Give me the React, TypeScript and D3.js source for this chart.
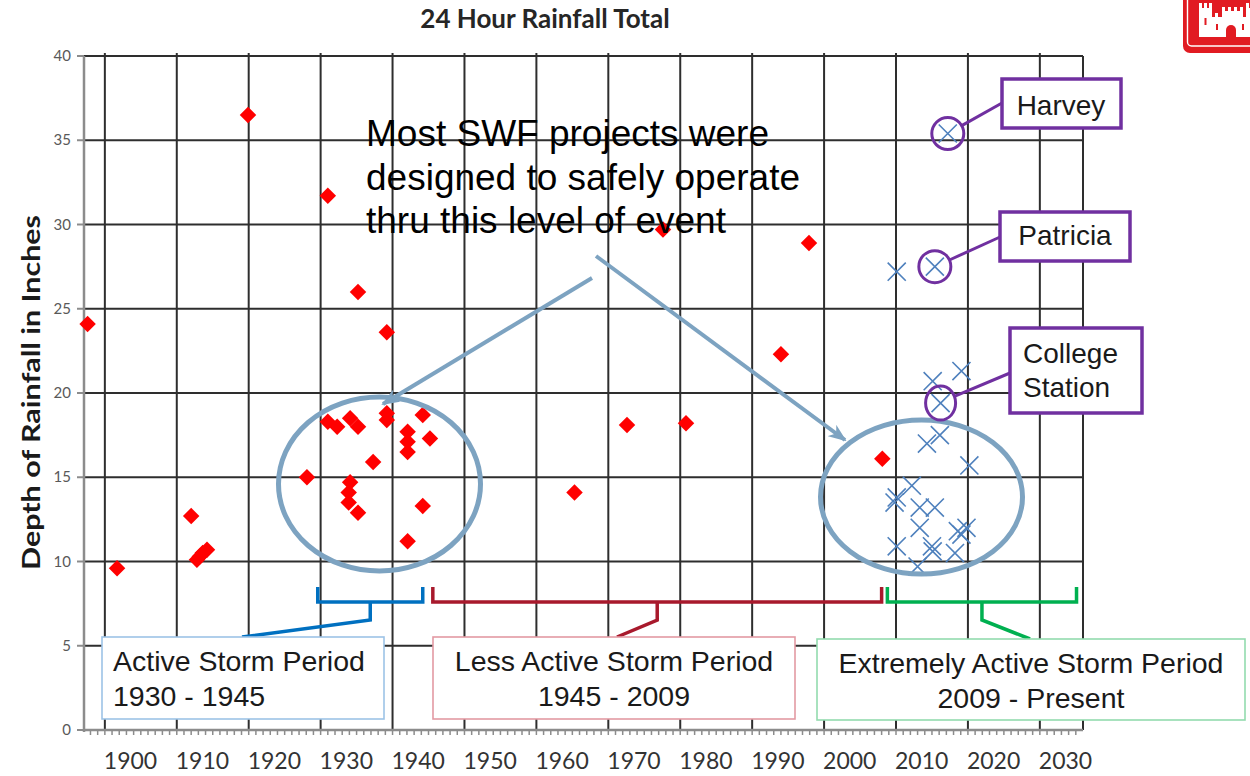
import React from "react";
import * as d3 from "d3";

// ---- data ----
const yearTicks = [1900, 1910, 1920, 1930, 1940, 1950, 1960, 1970, 1980, 1990, 2000, 2010, 2020, 2030];
const depthTicks = [0, 5, 10, 15, 20, 25, 30, 35, 40];

// Historic 24-hour rainfall events (red diamonds)
const historicYears = [
  1897.6, 1901.7, 1912.0, 1912.8, 1913.2, 1913.6, 1914.2, 1919.9, 1928.1, 1931.0,
  1931.0, 1932.3, 1934.1, 1935.2, 1935.2, 1934.1, 1933.9, 1933.9, 1935.2, 1937.3,
  1939.2, 1939.2, 1939.2, 1942.1, 1942.1, 1942.1, 1942.1, 1944.2, 1944.2, 1945.2,
  1965.3, 1972.6, 1977.6, 1980.8, 1994.0, 1997.9, 2008.1,
];
const historicDepths = [
  24.1, 9.6, 12.7, 10.1, 10.3, 10.5, 10.7, 36.5, 15.0, 31.7,
  18.3, 18.0, 18.5, 18.0, 26.0, 14.7, 14.1, 13.5, 12.9, 15.9,
  23.6, 18.8, 18.4, 17.7, 17.1, 16.5, 11.2, 18.7, 13.3, 17.3,
  14.1, 18.1, 29.7, 18.2, 22.3, 28.9, 16.1,
];

// Recent events (blue crosses)
const recentYears = [
  2017.2, 2015.4, 2010.1, 2015.1, 2019.1, 2016.2, 2016.1, 2014.3, 2020.2, 2012.2,
  2010.1, 2009.8, 2013.3, 2015.4, 2013.3, 2019.8, 2019.1, 2018.6, 2010.1, 2015.0,
  2015.1, 2018.2, 2013.0,
];
const recentDepths = [
  35.4, 27.5, 27.2, 20.7, 21.3, 19.4, 17.5, 17.0, 15.7, 14.5,
  13.8, 13.5, 13.2, 13.2, 12.0, 12.0, 11.6, 11.8, 10.9, 10.9,
  10.6, 10.5, 9.7,
];

// Named storms: index into the recent series
const stormNames = [["Harvey"], ["Patricia"], ["College", "Station"]];
const stormIndex = [0, 1, 5];

// Storm periods
const periodTitles = ["Active Storm Period", "Less Active Storm Period", "Extremely Active Storm Period"];
const periodRanges = ["1930 - 1945", "1945 - 2009", "2009 - Present"];
const periodStart = [1929.6, 1945.6, 2008.8];
const periodEnd = [1944.2, 2008.0, 2035.1];

// ---- layout ----
const W = 1250;
const H = 776;
const plot = { left: 84, right: 1083, top: 56, bottom: 730 };

const x = d3.scaleLinear().domain([1897.1, 2036]).range([plot.left, plot.right]);
const y = d3.scaleLinear().domain([0, 40]).range([plot.bottom, plot.top]);

const RED = "#FF0000";
const BLUE_X = "#4F81BD";
const PURPLE = "#7030A0";
const STEEL = "#7DA3C1";
const GRID = "#2E2E2E";
const AXIS = "#8C8C8C";
const CALIBRI = "Lato, 'Open Sans', sans-serif";
const ARIAL = "'Liberation Sans', Arial, sans-serif";

const diamond = d3.symbol(d3.symbolSquare, 136)() as string;
const cross = d3.symbol(d3.symbolX, 215)() as string;

const periodColors = ["#0070C0", "#A8192C", "#00B050"];
const periodBoxStroke = ["#9DC3E6", "#E39AA3", "#93DBAE"];
const periodBoxes = [
  { x: 102, y: 637, w: 282, h: 82, anchor: "start", tx: 113, lead: [242, 637] },
  { x: 433, y: 637, w: 362, h: 82, anchor: "middle", tx: 614, lead: [617, 637] },
  { x: 817, y: 639, w: 428, h: 81, anchor: "middle", tx: 1031, lead: [1030, 639] },
];
const bracket = { armTop: 587, bar: 602, stem: 620 };

const stormBoxes = [
  { x: 1002, y: 79, w: 119, h: 49, anchor: [1002, 103], tx: 1061, ty: [115] },
  { x: 1000, y: 212, w: 130, h: 49, anchor: [1000, 237], tx: 1065, ty: [245] },
  { x: 1010, y: 328, w: 132, h: 85, anchor: [1010, 373], tx: 1023, ty: [363, 397] },
];
const stormRings = [
  { rx: 16, ry: 16 },
  { rx: 16, ry: 16 },
  { rx: 15, ry: 17 },
];

const noteLines = ["Most SWF projects were", "designed to safely operate", "thru this level of event"];

function Logo() {
  const castle =
    "M1199,37 L1199,8 L1199,3 L1202,3 L1202,8 L1204,8 L1204,3 L1207,3 L1207,8 L1209,8 L1209,3 L1212,3 L1212,17 " +
    "L1215,17 L1215,13 L1218,13 L1218,17 L1222,17 L1222,7 L1225,7 L1225,11 L1228,11 L1228,7 L1231,7 L1231,11 " +
    "L1234,11 L1234,7 L1237,7 L1237,11 L1240,11 L1240,7 L1243,7 L1243,17 L1246,17 L1246,3 L1249,3 L1249,8 " +
    "L1252,8 L1252,37 Z";
  return (
    <g>
      <rect x={1183} y={-20} width={95} height={73} rx={7} fill="#E11B22" />
      <rect x={1187.5} y={-20} width={86} height={66} rx={4} fill="none" stroke="#FFFFFF" strokeWidth={1.4} />
      <path d={castle} fill="#FFFFFF" />
      <path d="M1226,37 L1226,30 A5,5 0 0 1 1236,30 L1236,37 Z" fill="#E11B22" />
      <rect x={1204.5} y={18} width={2} height={7} fill="#E11B22" />
      <rect x={1216} y={24} width={2} height={6} fill="#E11B22" />
      <rect x={1242} y={24} width={2} height={6} fill="#E11B22" />
    </g>
  );
}

export default function App() {
  const minorYears = d3.range(1898, 2036, 1);

  return (
    <svg
      width={W}
      height={H}
      viewBox={`0 0 ${W} ${H}`}
      style={{ position: "absolute", left: 0, top: 0, background: "#FFFFFF" }}
    >
      <defs>
        <marker
          id="arrowHead"
          viewBox="0 0 18 14"
          markerWidth={18}
          markerHeight={14}
          refX={16}
          refY={7}
          orient="auto"
          markerUnits="userSpaceOnUse"
        >
          <path d="M0,0 L18,7 L0,14 L5,7 Z" fill={STEEL} />
        </marker>
      </defs>

      {/* title */}
      <text
        x={545}
        y={28}
        textAnchor="middle"
        fontFamily={CALIBRI}
        fontWeight={700}
        fontSize={26}
        fill="#262626"
      >
        24 Hour Rainfall Total
      </text>

      {/* y-axis title */}
      <text
        transform={`translate(40,${392.5}) rotate(-90)`}
        textAnchor="middle"
        fontFamily={CALIBRI}
        fontWeight={700}
        fontSize={25}
        textLength={355}
        lengthAdjust="spacingAndGlyphs"
        fill="#1A1A1A"
      >
        Depth of Rainfall in Inches
      </text>

      {/* horizontal grid */}
      {depthTicks.map((d) => (
        <g key={`h${d}`}>
          <line x1={plot.left} x2={plot.right} y1={y(d)} y2={y(d)} stroke={d === 0 ? AXIS : GRID} strokeWidth={2} />
          <line x1={plot.left - 7} x2={plot.left} y1={y(d)} y2={y(d)} stroke={AXIS} strokeWidth={2} />
          <text
            x={71}
            y={y(d) + 5}
            textAnchor="end"
            fontFamily={CALIBRI}
            fontSize={15}
            fill="#595959"
          >
            {d}
          </text>
        </g>
      ))}

      {/* vertical grid */}
      {yearTicks.map((yr) => (
        <line key={`v${yr}`} x1={x(yr)} x2={x(yr)} y1={plot.top - 3} y2={plot.bottom} stroke={GRID} strokeWidth={2} />
      ))}
      <line x1={plot.right} x2={plot.right} y1={plot.top} y2={plot.bottom} stroke={GRID} strokeWidth={2} />

      {/* axes */}
      <line x1={plot.left} x2={plot.left} y1={plot.top} y2={plot.bottom + 2} stroke={AXIS} strokeWidth={2.5} />
      <line x1={plot.left} x2={plot.right} y1={plot.bottom} y2={plot.bottom} stroke={AXIS} strokeWidth={2.5} />
      {minorYears.map((yr) => (
        <line key={`m${yr}`} x1={x(yr)} x2={x(yr)} y1={plot.bottom} y2={plot.bottom + 5} stroke={AXIS} strokeWidth={1.5} />
      ))}

      {/* x tick labels */}
      {yearTicks.map((yr) => (
        <text
          key={`xl${yr}`}
          x={x(yr) - 1}
          y={769}
          fontFamily={CALIBRI}
          fontSize={23}
          fill="#333333"
        >
          {yr}
        </text>
      ))}

      {/* historic events */}
      {historicYears.map((yr, i) => (
        <path
          key={`r${i}`}
          d={diamond}
          transform={`translate(${x(yr)},${y(historicDepths[i])}) rotate(45)`}
          fill={RED}
        />
      ))}

      {/* recent events */}
      {recentYears.map((yr, i) => (
        <path
          key={`b${i}`}
          d={cross}
          transform={`translate(${x(yr)},${y(recentDepths[i])})`}
          fill="none"
          stroke={BLUE_X}
          strokeWidth={1.6}
        />
      ))}

      {/* design-level note */}
      {noteLines.map((t, i) => (
        <text key={`n${i}`} x={366} y={146 + i * 43.5} fontFamily={ARIAL} fontSize={37} fill="#000000">
          {t}
        </text>
      ))}
      <line x1={592} y1={278} x2={383} y2={404} stroke={STEEL} strokeWidth={4} markerEnd="url(#arrowHead)" />
      <line x1={596} y1={256} x2={845} y2={440} stroke={STEEL} strokeWidth={4} markerEnd="url(#arrowHead)" />
      <ellipse cx={379.5} cy={484} rx={101} ry={87} fill="none" stroke={STEEL} strokeWidth={5} />
      <ellipse cx={921.5} cy={497} rx={101} ry={77} fill="none" stroke={STEEL} strokeWidth={5} />

      {/* named storm callouts */}
      {stormIndex.map((idx, i) => {
        const cx = x(recentYears[idx]);
        const cy = y(recentDepths[idx]);
        const b = stormBoxes[i];
        const ring = stormRings[i];
        const ang = Math.atan2(b.anchor[1] - cy, b.anchor[0] - cx);
        const sx = cx + ring.rx * Math.cos(ang);
        const sy = cy + ring.ry * Math.sin(ang);
        return (
          <g key={`s${i}`}>
            <ellipse cx={cx} cy={cy} rx={ring.rx} ry={ring.ry} fill="none" stroke={PURPLE} strokeWidth={3} />
            <line x1={sx} y1={sy} x2={b.anchor[0]} y2={b.anchor[1]} stroke={PURPLE} strokeWidth={3} />
            <rect x={b.x} y={b.y} width={b.w} height={b.h} fill="#FFFFFF" stroke={PURPLE} strokeWidth={3.5} />
            {stormNames[i].map((t, j) => (
              <text
                key={j}
                x={b.tx}
                y={b.ty[j]}
                textAnchor={stormNames[i].length > 1 ? "start" : "middle"}
                fontFamily={ARIAL}
                fontSize={28}
                fill="#1A1A1A"
              >
                {t}
              </text>
            ))}
          </g>
        );
      })}

      {/* period brackets and labels */}
      {periodStart.map((s, i) => {
        const x0 = x(s);
        const x1 = x(periodEnd[i]);
        const xm = (x0 + x1) / 2;
        const box = periodBoxes[i];
        const col = periodColors[i];
        return (
          <g key={`p${i}`}>
            <path
              d={`M${x0},${bracket.armTop} L${x0},${bracket.bar} L${x1},${bracket.bar} L${x1},${bracket.armTop}`}
              fill="none"
              stroke={col}
              strokeWidth={3.5}
            />
            <path
              d={`M${xm},${bracket.bar} L${xm},${bracket.stem} L${box.lead[0]},${box.lead[1]}`}
              fill="none"
              stroke={col}
              strokeWidth={3.5}
            />
            <rect x={box.x} y={box.y} width={box.w} height={box.h} fill="#FFFFFF" stroke={periodBoxStroke[i]} strokeWidth={1.6} />
            <text
              x={box.tx}
              y={box.y + 34}
              textAnchor={box.anchor as "start" | "middle"}
              fontFamily={ARIAL}
              fontSize={28.5}
              fill="#1A1A1A"
            >
              {periodTitles[i]}
            </text>
            <text
              x={box.tx}
              y={box.y + 69}
              textAnchor={box.anchor as "start" | "middle"}
              fontFamily={ARIAL}
              fontSize={28.5}
              fill="#1A1A1A"
            >
              {periodRanges[i]}
            </text>
          </g>
        );
      })}

      <Logo />
    </svg>
  );
}
